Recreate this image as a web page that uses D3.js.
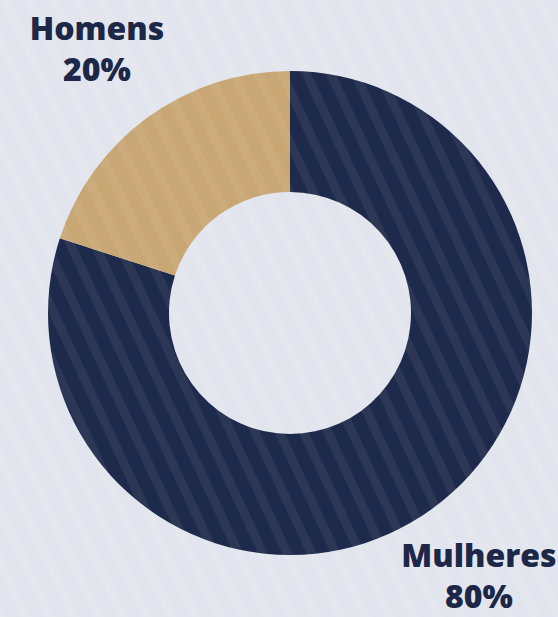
<!DOCTYPE html>
<html>
<head>
<meta charset="utf-8">
<script src="https://cdn.jsdelivr.net/npm/d3@7"></script>
<style>
  html, body { margin: 0; padding: 0; background: #e2e5ed; }
  svg { display: block; }
</style>
</head>
<body>
<div class="chart"></div>
<script>
const categories = ["Mulheres", "Homens"];
const values = [80, 20];
const labels = ["80%", "20%"];
const colors = ["#1e2a4b", "#c9a774"];

const w = 558;
const h = 617;
const cx = 290;
const cy = 313;
const outerR = 242;
const innerR = 121;

const svg = d3.select(".chart")
    .append("svg")
    .attr("width", w)
    .attr("height", h);

// faint diagonal stripes in the background
const defs = svg.append("defs");
const pat = defs.append("pattern")
    .attr("id", "stripes")
    .attr("width", 22)
    .attr("height", 22)
    .attr("patternUnits", "userSpaceOnUse")
    .attr("patternTransform", "rotate(-25)");
pat.append("rect")
    .attr("width", 9)
    .attr("height", 22)
    .attr("fill", "#ffffff");

svg.append("rect")
    .attr("width", w)
    .attr("height", h)
    .attr("fill", "#e2e5ed");

const pie = d3.pie().sort(null).value(d => d.value);
const arc = d3.arc().innerRadius(innerR).outerRadius(outerR);

const data = categories.map((c, i) => ({ name: c, value: values[i], label: labels[i], color: colors[i] }));

const g = svg.append("g")
    .attr("transform", `translate(${cx}, ${cy})`);

g.selectAll("path")
    .data(pie(data))
    .enter()
    .append("path")
    .attr("d", arc)
    .attr("fill", d => d.data.color);

// stripe overlay over everything
svg.append("rect")
    .attr("width", w)
    .attr("height", h)
    .attr("fill", "url(#stripes)")
    .attr("opacity", 0.06);

// labels
const labelPos = {
    "Homens": [97, 40],
    "Mulheres": [479, 567]
};

data.forEach(d => {
    const [x, y] = labelPos[d.name];
    const t = svg.append("text")
        .attr("x", x)
        .attr("y", y)
        .attr("text-anchor", "middle")
        .attr("fill", "#1d2747")
        .style("font-family", "'Open Sans', sans-serif")
        .style("font-weight", 800)
        .style("font-size", "32px");
    t.append("tspan").attr("x", x).text(d.name);
    t.append("tspan").attr("x", x).attr("dy", 41).text(d.label);
});
</script>
</body>
</html>
